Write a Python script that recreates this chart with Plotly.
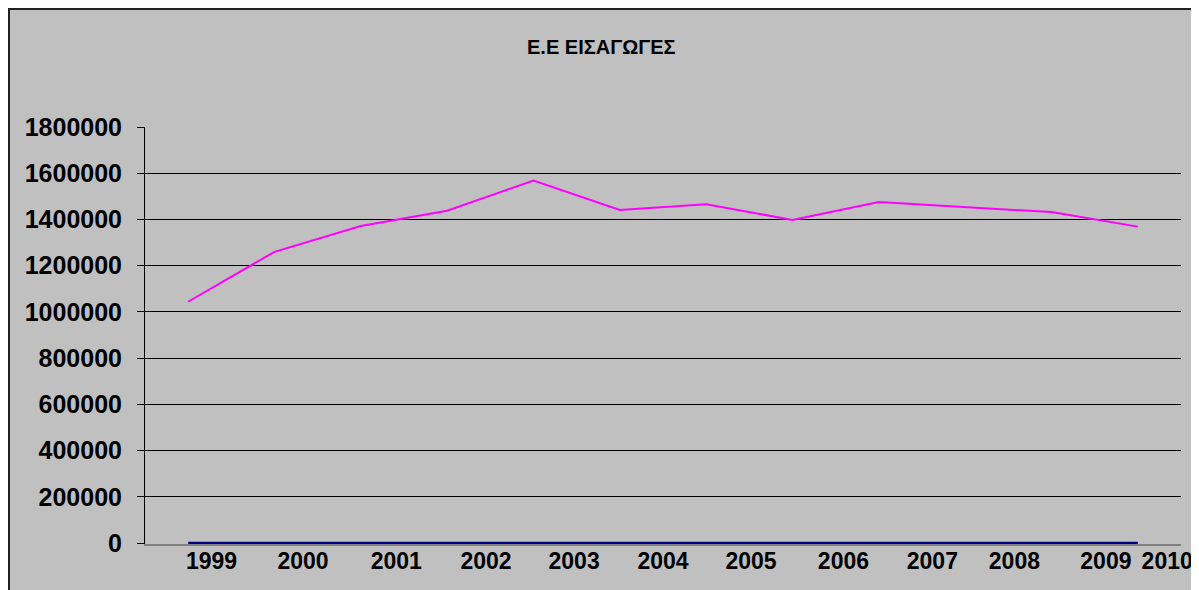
import plotly.graph_objects as go

years = ["1999", "2000", "2001", "2002", "2003", "2004", "2005", "2006", "2007", "2008", "2009", "2010"]
imports_eu = [1044000, 1260000, 1372000, 1438000, 1568000, 1441000, 1466000, 1398000, 1475000, 1453000, 1432000, 1369000]
other_series = [0, 0, 0, 0, 0, 0, 0, 0, 0, 0, 0, 0]
y_ticks = [0, 200000, 400000, 600000, 800000, 1000000, 1200000, 1400000, 1600000, 1800000]

# label placement offsets (layout only)
label_pos = [0.27, 1.33, 2.41, 3.45, 4.47, 5.50, 6.52, 7.59, 8.62, 9.57, 10.63, 11.34]

OFF = 8  # page body margin
W, H = 1199 - OFF, 590 - OFF
L, R, T, B = 145 - OFF, 18, 127 - OFF, 46
pw, ph = W - L - R, H - T - B

def px_x(p):
    return (p - OFF - L) / pw

def px_y(p):
    return (H - B - (p - OFF)) / ph

FONT = "Liberation Sans, Arial, sans-serif"

idx = list(range(len(years)))
fig = go.Figure()
fig.add_trace(go.Scatter(x=idx, y=other_series, mode="lines",
                         line=dict(color="#000080", width=2.5), showlegend=False))
fig.add_trace(go.Scatter(x=idx, y=imports_eu, mode="lines",
                         line=dict(color="#FF00FF", width=2), showlegend=False))

fig.update_layout(
    width=W, height=H,
    margin=dict(l=L, r=R, t=T, b=B, autoexpand=False),
    paper_bgcolor="white",
    plot_bgcolor="#C0C0C0",
    font=dict(family=FONT, color="black"),
    shapes=[dict(type="rect", xref="paper", yref="paper",
                 x0=px_x(9), x1=px_x(1192), y0=px_y(610), y1=px_y(9),
                 fillcolor="#C0C0C0", line=dict(color="#222222", width=2), layer="below")],
    annotations=[dict(text="<b>Ε.Ε ΕΙΣΑΓΩΓΕΣ</b>", xref="paper", yref="paper",
                      x=px_x(601), y=px_y(47), xanchor="center", yanchor="middle",
                      showarrow=False,
                      font=dict(family=FONT, size=20, color="black"))],
)
fig.update_xaxes(range=[-0.5, len(years) - 0.5], tickmode="array",
                 tickvals=label_pos, ticktext=[f"<b>{y}</b>" for y in years],
                 ticks="", showgrid=False, zeroline=False, automargin=False,
                 ticklabelstandoff=-4,
                 showline=True, linecolor="#808080", linewidth=1.5, layer="below traces",
                 tickfont=dict(family=FONT, size=23, color="black"))
fig.update_yaxes(range=[-4000, 1800000], tickmode="array", tickvals=y_ticks,
                 ticktext=[f"<b>{v}</b>" for v in y_ticks],
                 ticks="outside", ticklen=7, tickcolor="black", tickwidth=1,
                 ticklabelstandoff=10, automargin=False,
                 showgrid=True, gridcolor="black", gridwidth=1, zeroline=False,
                 showline=True, linecolor="black", linewidth=1,
                 tickfont=dict(family=FONT, size=25, color="black"))

fig.write_html("out.html")
